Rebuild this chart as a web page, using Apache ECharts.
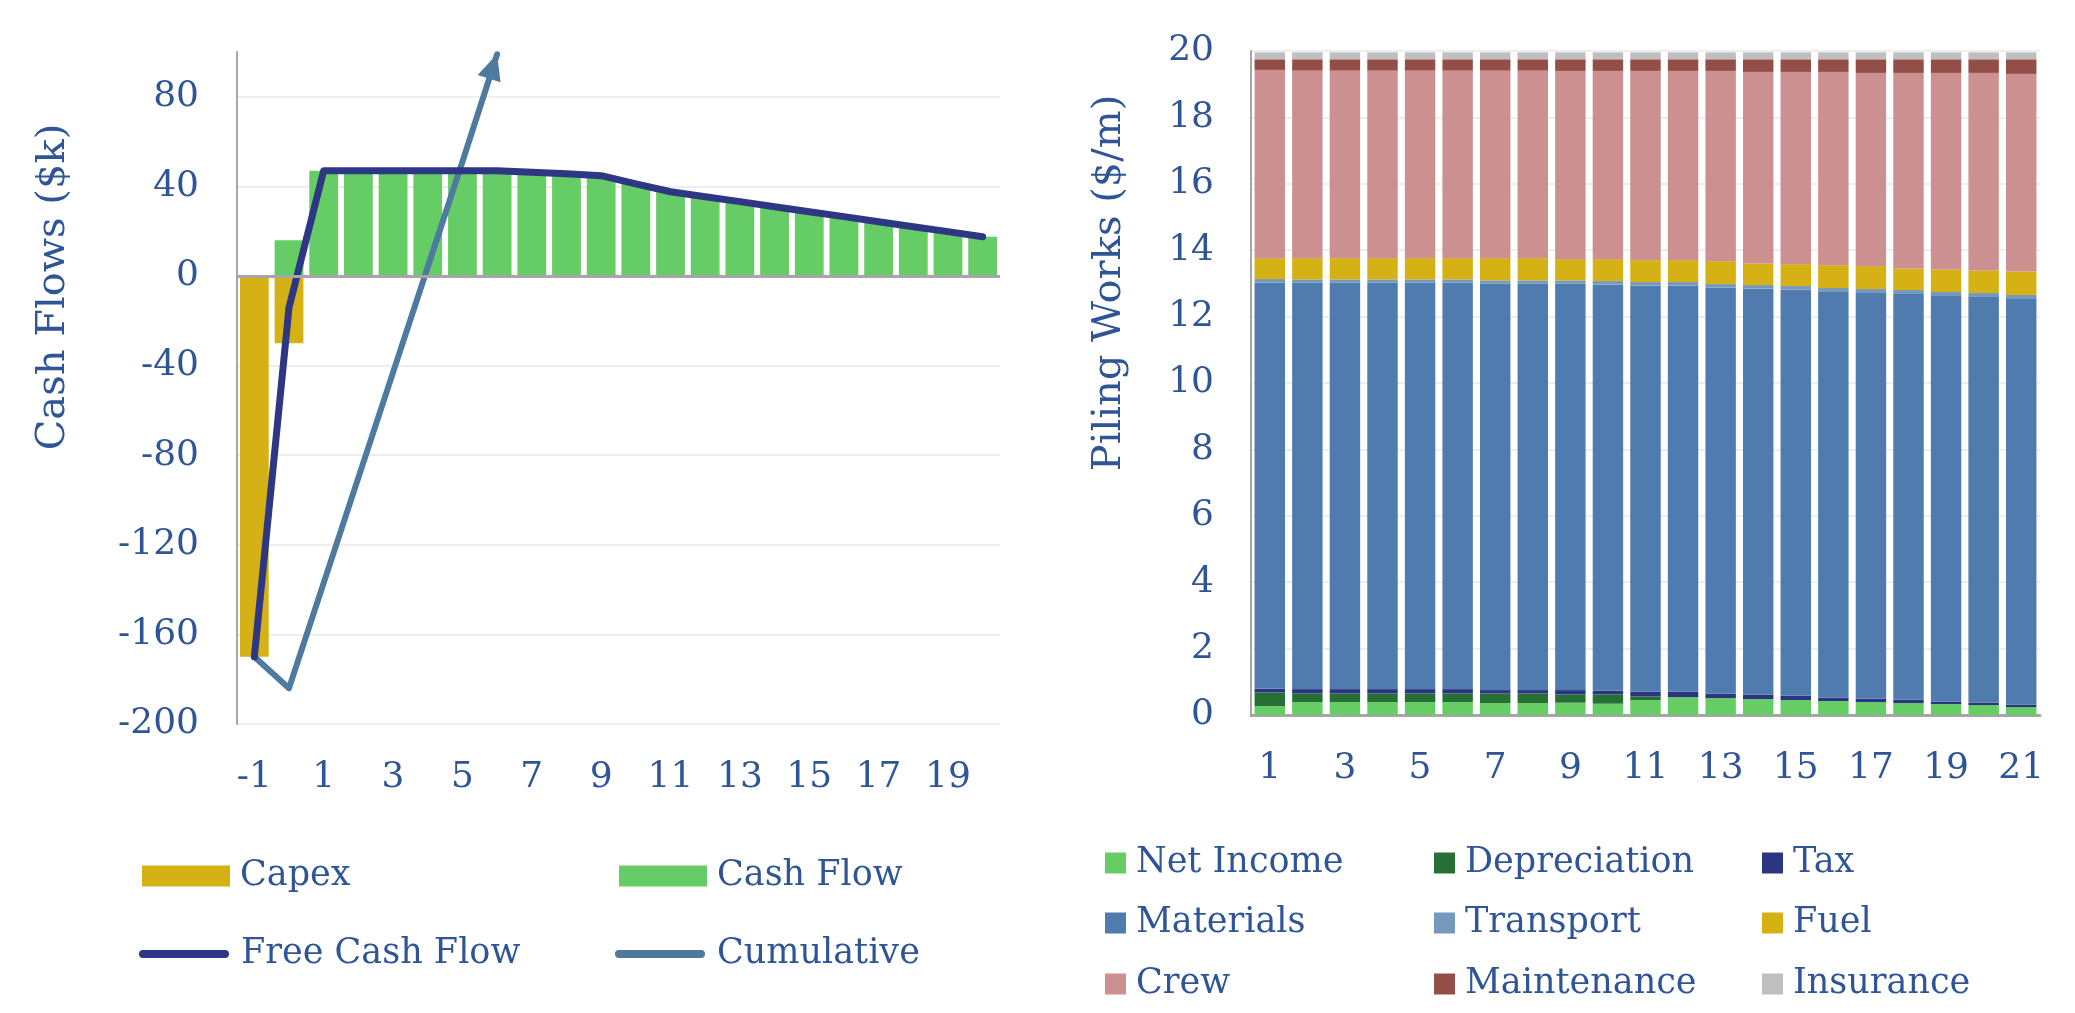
<!DOCTYPE html>
<html>
<head>
<meta charset="utf-8">
<title>Cash flows and piling works</title>
<script src="https://cdn.jsdelivr.net/npm/echarts@6/dist/echarts.min.js"></script>
<style>
  html, body { margin: 0; padding: 0; background: #fff; }
  #chart { width: 2075px; height: 1013px; }
</style>
</head>
<body>
<div id="chart"></div>
<script>
// left chart: cash flows by year ($k)
var years = ['-1', '0', '1', '2', '3', '4', '5', '6', '7', '8', '9', '10',
  '11', '12', '13', '14', '15', '16', '17', '18', '19', '20']
var capex = [-170, -30]
var cashFlow = ['-', 16, 47, 47, 47, 47, 47, 47, 46.3, 45.6, 44.8, 41.1,
  37.6, 35.4, 33.2, 30.9, 28.7, 26.5, 24.2, 22.0, 19.8, 17.5]
var freeCashFlow = [-170, -14, 47, 47, 47, 47, 47, 47, 46.3, 45.6, 44.8, 41.1,
  37.6, 35.4, 33.2, 30.9, 28.7, 26.5, 24.2, 22.0, 19.8, 17.5]
var cumulative = [-170, -184, -137, -90, -43, 4, 51, 99]

// right chart: piling works cost stack ($/m)
var pileYears = ['1', '2', '3', '4', '5', '6', '7', '8', '9', '10', '11',
  '12', '13', '14', '15', '16', '17', '18', '19', '20', '21']
var netIncome = [0.27, 0.39, 0.39, 0.39, 0.39, 0.39, 0.36, 0.36, 0.37, 0.34, 0.45,
  0.54, 0.51, 0.48, 0.45, 0.42, 0.39, 0.36, 0.33, 0.30, 0.24]
var depreciation = [0.41, 0.26, 0.26, 0.26, 0.26, 0.26, 0.29, 0.29, 0.25, 0.28, 0.11,
  0, 0, 0, 0, 0, 0, 0, 0, 0, 0]
var tax = [0.11, 0.13, 0.13, 0.13, 0.13, 0.13, 0.10, 0.10, 0.13, 0.11, 0.14,
  0.16, 0.13, 0.13, 0.13, 0.10, 0.10, 0.10, 0.07, 0.07, 0.07]
var materials = [12.24, 12.24, 12.24, 12.24, 12.24, 12.24, 12.24, 12.24, 12.24, 12.24, 12.24,
  12.24, 12.24, 12.24, 12.24, 12.24, 12.24, 12.24, 12.24, 12.24, 12.24]
var transport = [0.10, 0.10, 0.10, 0.10, 0.10, 0.10, 0.10, 0.10, 0.10, 0.10, 0.10,
  0.10, 0.10, 0.10, 0.10, 0.10, 0.10, 0.10, 0.10, 0.10, 0.10]
var fuel = [0.63, 0.64, 0.64, 0.64, 0.64, 0.64, 0.67, 0.67, 0.64, 0.66, 0.66,
  0.66, 0.69, 0.65, 0.66, 0.69, 0.69, 0.65, 0.68, 0.68, 0.71]
var crew = [5.67, 5.65, 5.65, 5.65, 5.65, 5.65, 5.65, 5.65, 5.67, 5.67, 5.70,
  5.70, 5.73, 5.77, 5.79, 5.82, 5.82, 5.89, 5.92, 5.95, 5.95]
var maintenance = [0.32, 0.34, 0.34, 0.34, 0.34, 0.34, 0.34, 0.34, 0.35, 0.35, 0.35,
  0.35, 0.35, 0.38, 0.38, 0.38, 0.41, 0.41, 0.41, 0.41, 0.44]
var insurance = [0.21, 0.21, 0.21, 0.21, 0.21, 0.21, 0.21, 0.21, 0.21, 0.21, 0.21,
  0.21, 0.21, 0.21, 0.21, 0.21, 0.21, 0.21, 0.21, 0.21, 0.21]

var FONT = 'DejaVu Serif'
var TEXT = '#2F5597'
var AXIS = '#A6A6A6'
var GRID = '#EEEEEE'
var LEGEND_SIZE = 35
var TICK_SIZE = 36
var CAPSULE = 'path://M4,0 H86 A4,4 0 0 1 86,8 H4 A4,4 0 0 1 4,0 Z'

function legendItem(name, left, centerY, icon, w, h) {
  return {
    data: [name],
    left: left,
    top: centerY - LEGEND_SIZE / 2,
    icon: icon,
    itemWidth: w,
    itemHeight: h,
    padding: 0,
    selectedMode: false,
    textStyle: { fontFamily: FONT, fontSize: LEGEND_SIZE, color: TEXT, padding: [0, 0, 0, 5] }
  }
}

function stackBar(name, data, color) {
  return {
    name: name,
    type: 'bar',
    stack: 'pile',
    xAxisIndex: 1,
    yAxisIndex: 1,
    barCategoryGap: '19%',
    itemStyle: { color: color },
    data: data
  }
}

var chart = echarts.init(document.getElementById('chart'), null, { renderer: 'canvas' })

chart.setOption({
  animation: false,
  backgroundColor: '#fff',
  textStyle: { fontFamily: FONT },
  grid: [
    { left: 237, top: 52, width: 763, height: 672 },
    { left: 1251, top: 51, width: 789, height: 664 }
  ],
  graphic: [
    {
      type: 'text', x: 54, y: 287, rotation: Math.PI / 2,
      style: { text: 'Cash Flows ($k)', fontFamily: FONT, fontSize: 40, fill: TEXT, align: 'center', verticalAlign: 'middle' }
    },
    {
      type: 'text', x: 1110, y: 283, rotation: Math.PI / 2,
      style: { text: 'Piling Works ($/m)', fontFamily: FONT, fontSize: 40, fill: TEXT, align: 'center', verticalAlign: 'middle' }
    }
  ],
  xAxis: [
    {
      type: 'category',
      gridIndex: 0,
      data: years,
      axisLine: { show: false },
      axisTick: { show: false },
      axisLabel: { interval: 1, margin: 36, fontFamily: FONT, fontSize: TICK_SIZE, color: TEXT }
    },
    {
      type: 'category',
      gridIndex: 1,
      data: pileYears,
      axisLine: { show: true, lineStyle: { color: AXIS, width: 3 } },
      axisTick: { show: false },
      axisLabel: { interval: 1, margin: 36, fontFamily: FONT, fontSize: TICK_SIZE, color: TEXT }
    }
  ],
  yAxis: [
    {
      type: 'value',
      gridIndex: 0,
      min: -200,
      max: 100,
      interval: 40,
      axisLine: { show: true, lineStyle: { color: AXIS, width: 2 } },
      axisTick: { show: false },
      axisLabel: { showMaxLabel: false, margin: 38, fontFamily: FONT, fontSize: TICK_SIZE, color: TEXT },
      splitLine: {
        lineStyle: {
          width: 2,
          color: [GRID, GRID, GRID, GRID, GRID, GRID, GRID, GRID, 'transparent']
        }
      }
    },
    {
      type: 'value',
      gridIndex: 1,
      min: 0,
      max: 20,
      interval: 2,
      axisLine: { show: true, lineStyle: { color: AXIS, width: 2 } },
      axisTick: { show: false },
      axisLabel: { margin: 37, fontFamily: FONT, fontSize: TICK_SIZE, color: TEXT },
      splitLine: { lineStyle: { width: 2, color: GRID } }
    }
  ],
  legend: [
    legendItem('Capex', 142, 876, 'rect', 88, 21),
    legendItem('Cash Flow', 619, 876, 'rect', 88, 21),
    legendItem('Free Cash Flow', 139, 954, CAPSULE, 94, 8),
    legendItem('Cumulative', 615, 954, CAPSULE, 94, 8),
    legendItem('Net Income', 1105, 863, 'rect', 21, 21),
    legendItem('Depreciation', 1434, 863, 'rect', 21, 21),
    legendItem('Tax', 1762, 863, 'rect', 21, 21),
    legendItem('Materials', 1105, 923, 'rect', 21, 21),
    legendItem('Transport', 1434, 923, 'rect', 21, 21),
    legendItem('Fuel', 1762, 923, 'rect', 21, 21),
    legendItem('Crew', 1105, 984, 'rect', 21, 21),
    legendItem('Maintenance', 1434, 984, 'rect', 21, 21),
    legendItem('Insurance', 1762, 984, 'rect', 21, 21)
  ],
  series: [
    {
      name: 'Capex',
      type: 'bar',
      stack: 'cf',
      barCategoryGap: '17%',
      itemStyle: { color: '#D6B115' },
      data: capex
    },
    {
      name: 'Cash Flow',
      type: 'bar',
      stack: 'cf',
      barCategoryGap: '17%',
      itemStyle: { color: '#66CC66' },
      data: cashFlow,
      markLine: {
        silent: true,
        symbol: 'none',
        label: { show: false },
        lineStyle: { color: AXIS, width: 3, type: 'solid' },
        data: [{ yAxis: 0 }]
      }
    },
    {
      name: 'Free Cash Flow',
      type: 'line',
      symbol: 'none',
      itemStyle: { color: '#2E3783' },
      lineStyle: { color: '#2E3783', width: 7, cap: 'round', join: 'round' },
      data: freeCashFlow,
      z: 4
    },
    {
      name: 'Cumulative',
      type: 'line',
      symbol: 'none',
      itemStyle: { color: '#4F7AA0' },
      lineStyle: { color: '#4F7AA0', width: 6, cap: 'round', join: 'round' },
      data: cumulative.map(function(v, i) {
        if (i !== cumulative.length - 1) return v
        return { value: v, symbol: 'triangle', symbolSize: [24, 26], symbolRotate: -18, symbolOffset: [-4, 12] }
      }),
      z: 3
    },
    stackBar('Net Income', netIncome, '#66CC66'),
    stackBar('Depreciation', depreciation, '#277035'),
    stackBar('Tax', tax, '#2B3580'),
    stackBar('Materials', materials, '#4F7BAE'),
    stackBar('Transport', transport, '#7499BA'),
    stackBar('Fuel', fuel, '#D6B115'),
    stackBar('Crew', crew, '#CC9090'),
    stackBar('Maintenance', maintenance, '#934F47'),
    stackBar('Insurance', insurance, '#BFBFBF')
  ]
})
</script>
</body>
</html>
